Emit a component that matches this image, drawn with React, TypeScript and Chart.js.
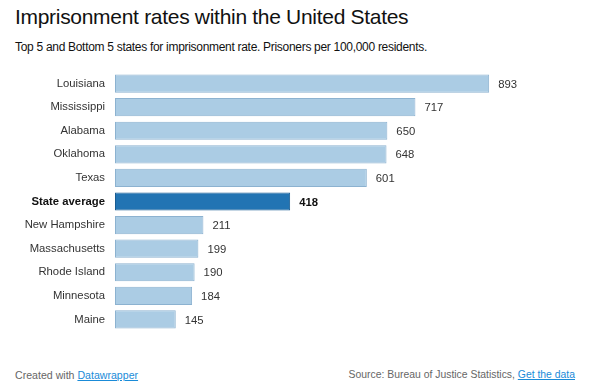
import React, { useEffect, useRef } from "react";
import { Chart, registerables } from "chart.js";

Chart.register(...registerables);

const states = [
  "Louisiana",
  "Mississippi",
  "Alabama",
  "Oklahoma",
  "Texas",
  "State average",
  "New Hampshire",
  "Massachusetts",
  "Rhode Island",
  "Minnesota",
  "Maine",
];
const rates = [893, 717, 650, 648, 601, 418, 211, 199, 190, 184, 145];
const highlightIndex = 5;

const FONT = "'Liberation Sans', Arial, Helvetica, sans-serif";

export default function App() {
  const ref = useRef<HTMLCanvasElement | null>(null);

  useEffect(() => {
    if (!ref.current) return;
    const labelPlugin = {
      id: "valueLabels",
      afterDatasetsDraw(chart: any) {
        const ctx = chart.ctx;
        const meta = chart.getDatasetMeta(0);
        ctx.save();
        ctx.textBaseline = "middle";
        ctx.textAlign = "left";
        meta.data.forEach((bar: any, i: number) => {
          const bold = i === highlightIndex;
          ctx.font = `${bold ? "bold " : ""}11.3px ${FONT}`;
          ctx.fillStyle = bold ? "#111" : "#333";
          ctx.fillText(String(rates[i]), bar.x + 9, bar.y + 1);
        });
        ctx.restore();
      },
    };
    const chart = new Chart(ref.current, {
      type: "bar",
      data: {
        labels: states,
        datasets: [
          {
            data: rates,
            backgroundColor: rates.map((_, i) => (i === highlightIndex ? "#2274b3" : "#abcce4")),
            borderColor: rates.map((_, i) => (i === highlightIndex ? "#185c92" : "#8cb2d0")),
            borderWidth: 1,
            borderSkipped: false,
            categoryPercentage: 1,
            barPercentage: 0.77,
          },
        ],
      },
      options: {
        indexAxis: "y",
        animation: false,
        responsive: false,
        maintainAspectRatio: false,
        layout: { padding: { left: 0, right: 66, top: 0, bottom: 0 } },
        plugins: {
          legend: { display: false },
          tooltip: { enabled: false },
          title: { display: false },
        },
        scales: {
          x: {
            display: false,
            min: 0,
            max: 1000,
          },
          y: {
            border: { display: false },
            grid: { display: false, drawTicks: false },
            afterFit: (scale: any) => {
              scale.width = 115;
            },
            ticks: {
              padding: 10,
              color: (c: any) => (c.index === highlightIndex ? "#111" : "#333"),
              font: (c: any) => ({
                family: FONT,
                size: 11.3,
                weight: c.index === highlightIndex ? "bold" : "normal",
              }),
            },
          },
        },
      },
      plugins: [labelPlugin],
    } as any);
    return () => chart.destroy();
  }, []);

  const base: React.CSSProperties = { position: "absolute", fontFamily: FONT, whiteSpace: "nowrap" };
  const link: React.CSSProperties = { color: "#1a8bd8", textDecoration: "underline" };

  return (
    <div style={{ position: "fixed", left: 0, top: 0, width: 600, height: 392, background: "#fff", overflow: "hidden" }}>
      <div style={{ ...base, left: 15, top: 4, fontSize: 21, letterSpacing: "-0.3px", color: "#111", lineHeight: "26px" }}>
        Imprisonment rates within the United States
      </div>
      <div style={{ ...base, left: 15, top: 39, fontSize: 12, letterSpacing: "-0.3px", color: "#111", lineHeight: "16px" }}>
        Top 5 and Bottom 5 states for imprisonment rate. Prisoners per 100,000 residents.
      </div>
      <canvas ref={ref} width={600} height={293} style={{ position: "absolute", left: 0, top: 55, width: 600, height: 293 }} />
      <div style={{ ...base, left: 15, top: 368, fontSize: 10.6, color: "#666", lineHeight: "14px" }}>
        Created with <span style={link}>Datawrapper</span>
      </div>
      <div style={{ ...base, right: 25, top: 368, fontSize: 10.4, color: "#666", lineHeight: "14px" }}>
        Source: Bureau of Justice Statistics, <span style={link}>Get the data</span>
      </div>
    </div>
  );
}
